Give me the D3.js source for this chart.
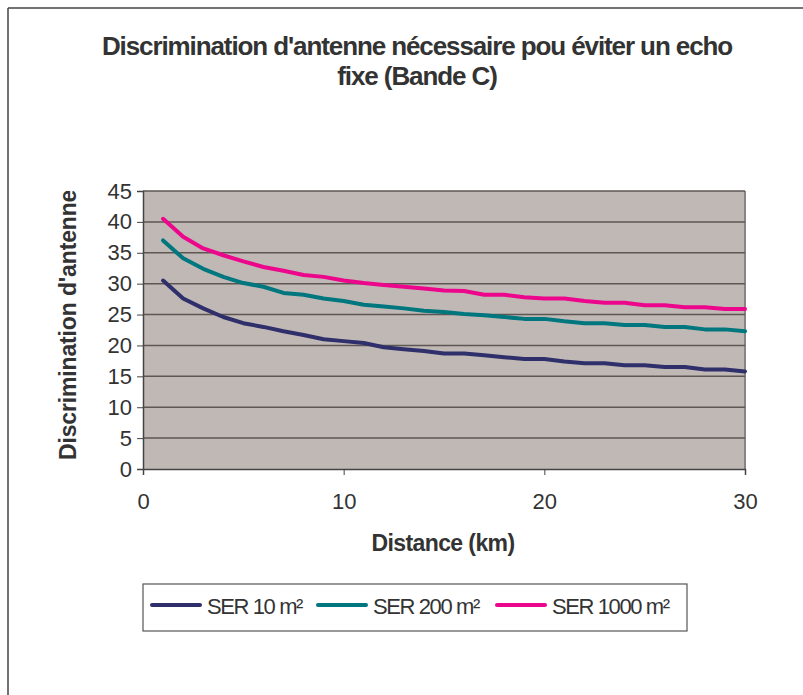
<!DOCTYPE html>
<html>
<head>
<meta charset="utf-8">
<script src="https://cdnjs.cloudflare.com/ajax/libs/d3/7.8.5/d3.min.js"></script>
<style>
  body { margin: 0; background: #fff; }
  svg { display: block; }
  text { font-family: "Liberation Sans", Arial, sans-serif; fill: #333; }
</style>
</head>
<body>
<svg width="803" height="695"></svg>
<script>
// distances in km
const distances = d3.range(1, 31);

const ser10 = [30.5, 27.6, 26.0, 24.6, 23.6, 23.0, 22.3, 21.7, 21.0, 20.7,
               20.4, 19.7, 19.4, 19.1, 18.7, 18.7, 18.4, 18.1, 17.8, 17.8,
               17.4, 17.1, 17.1, 16.8, 16.8, 16.5, 16.5, 16.1, 16.1, 15.8];
const ser200 = [37.0, 34.1, 32.4, 31.1, 30.1, 29.5, 28.5, 28.2, 27.6, 27.2,
                26.6, 26.3, 26.0, 25.6, 25.4, 25.1, 24.9, 24.6, 24.3, 24.3,
                23.9, 23.6, 23.6, 23.3, 23.3, 23.0, 23.0, 22.6, 22.6, 22.3];
const ser1000 = [40.5, 37.6, 35.7, 34.6, 33.6, 32.7, 32.1, 31.4, 31.1, 30.5,
                 30.1, 29.8, 29.5, 29.2, 28.9, 28.8, 28.2, 28.2, 27.8, 27.6,
                 27.6, 27.2, 26.9, 26.9, 26.5, 26.5, 26.2, 26.2, 25.9, 25.9];

const seriesNames = ["SER 10 m²", "SER 200 m²", "SER 1000 m²"];
const seriesColors = ["#2f2f6b", "#00767e", "#ec068c"];
const xTicks = [0, 10, 20, 30];
const yTicks = [0, 5, 10, 15, 20, 25, 30, 35, 40, 45];

const svg = d3.select("svg");

// outer frame (top and left edges visible)
svg.append("line").attr("x1", 8).attr("y1", 8).attr("x2", 803).attr("y2", 8)
   .attr("stroke", "#444").attr("stroke-width", 1.5);
svg.append("line").attr("x1", 8).attr("y1", 8).attr("x2", 8).attr("y2", 695)
   .attr("stroke", "#444").attr("stroke-width", 1.5);

// plot area
const plotL = 143, plotR = 745, plotT = 191, plotB = 469;

const x = d3.scaleLinear().domain([0, 30]).range([plotL, plotR]);
const y = d3.scaleLinear().domain([0, 45]).range([plotB, plotT]);

svg.append("rect")
   .attr("x", plotL).attr("y", plotT)
   .attr("width", plotR - plotL).attr("height", plotB - plotT)
   .attr("fill", "#c0b8b5");

// right border of the plot
svg.append("line").attr("x1", plotR).attr("x2", plotR).attr("y1", plotT).attr("y2", plotB)
   .attr("stroke", "#8a8482").attr("stroke-width", 2);

// horizontal gridlines
svg.append("g")
   .selectAll("line")
   .data(yTicks.slice(1))
   .join("line")
   .attr("x1", plotL).attr("x2", plotR)
   .attr("y1", d => y(d)).attr("y2", d => y(d))
   .attr("stroke", "#5e5654").attr("stroke-width", 1.5);

// y axis
const yAxis = svg.append("g")
   .attr("transform", `translate(${plotL},0)`)
   .call(d3.axisLeft(y).tickValues(yTicks).tickSize(6).tickPadding(5));
yAxis.select(".domain").attr("stroke", "#444").attr("stroke-width", 1.5);
yAxis.selectAll(".tick line").attr("stroke", "#444");
yAxis.selectAll("text")
   .style("font-size", "22px").style("letter-spacing", "0px").attr("fill", "#333");

// x axis
const xAxis = svg.append("g")
   .attr("transform", `translate(0,${plotB})`)
   .call(d3.axisBottom(x).tickValues(xTicks).tickSize(6).tickPadding(18));
xAxis.select(".domain").attr("stroke", "#444").attr("stroke-width", 1.5);
xAxis.selectAll(".tick line").attr("stroke", "#444");
xAxis.selectAll("text")
   .style("font-size", "22px").style("letter-spacing", "0px").attr("fill", "#333");
svg.selectAll("g").attr("font-family", null);

// lines
const lineGen = d3.line()
   .x((d, i) => x(distances[i]))
   .y(d => y(d));

[ser10, ser200, ser1000].forEach((s, k) => {
  svg.append("path")
     .datum(s)
     .attr("d", lineGen)
     .attr("fill", "none")
     .attr("stroke", seriesColors[k])
     .attr("stroke-width", 4)
     .attr("stroke-linejoin", "round")
     .attr("stroke-linecap", "round");
});

// title
const title = svg.append("text")
   .attr("text-anchor", "middle")
   .style("font-size", "26px").style("font-weight", "bold").style("letter-spacing", "-1.1px");
title.append("tspan").attr("x", 417).attr("y", 55).text("Discrimination d'antenne nécessaire pou éviter un echo");
title.append("tspan").attr("x", 417).attr("y", 85).text("fixe (Bande C)");

// axis titles
svg.append("text")
   .attr("x", 443).attr("y", 551)
   .attr("text-anchor", "middle")
   .style("font-size", "23px").style("font-weight", "bold").style("letter-spacing", "-0.6px")
   .text("Distance (km)");

// y title is cut at the top of the plot, like in the original
svg.append("clipPath").attr("id", "yclip")
   .append("rect").attr("x", 40).attr("y", 191).attr("width", 60).attr("height", 300);

svg.append("g")
   .attr("clip-path", "url(#yclip)")
   .append("text")
   .attr("transform", "translate(76,460) rotate(-90)")
   .attr("text-anchor", "start")
   .style("font-size", "23px").style("font-weight", "bold").style("letter-spacing", "-0.15px")
   .text("Discrimination d'antenne");

// legend
const legend = svg.append("g");
legend.append("rect")
   .attr("x", 143).attr("y", 584).attr("width", 544).attr("height", 47)
   .attr("fill", "#fff").attr("stroke", "#555").attr("stroke-width", 1.2);

const legendX = [150, 316, 495];
seriesNames.forEach((name, k) => {
  legend.append("line")
     .attr("x1", legendX[k] + 2).attr("x2", legendX[k] + 50)
     .attr("y1", 605).attr("y2", 605)
     .attr("stroke", seriesColors[k]).attr("stroke-width", 4)
     .attr("stroke-linecap", "round");
  legend.append("text")
     .attr("x", legendX[k] + 57).attr("y", 614)
     .style("font-size", "22px").style("letter-spacing", "-1.4px")
     .text(name);
});
</script>
</body>
</html>
